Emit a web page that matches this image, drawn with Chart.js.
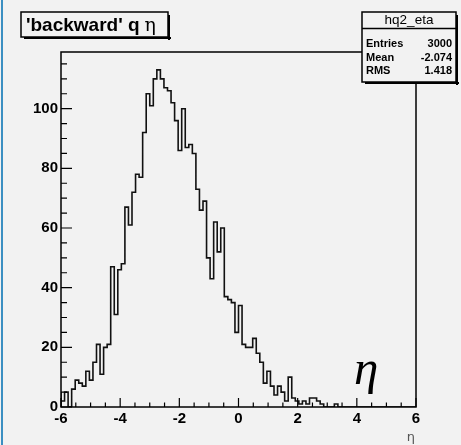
<!DOCTYPE html>
<html>
<head>
<meta charset="utf-8">
<script src="https://cdn.jsdelivr.net/npm/chart.js@4/dist/chart.umd.min.js"></script>
<style>
  html, body { margin: 0; padding: 0; background: #f2f2f2; }
  canvas { display: block; }
</style>
</head>
<body>
<canvas id="hist" width="461" height="445"></canvas>
<script>
// hq2_eta: 100 bins from -6 to 6
const binLow = -6;
const binWidth = 0.12;
const binCounts = [
    5, 2, 5, 0, 6, 9, 8, 7, 12, 9,
    15, 21, 11, 20, 21, 47, 31, 46, 48, 67,
    61, 72, 78, 77, 92, 105, 101, 110, 113, 110,
    107, 106, 102, 96, 86, 100, 87, 88, 85, 73,
    66, 69, 50, 43, 62, 52, 60, 37, 36, 35,
    25, 34, 21, 20, 20, 23, 18, 15, 8, 12,
    7, 4, 7, 5, 2, 10, 3, 2, 1, 2,
    1, 3, 3, 2, 1, 0, 0, 0, 1, 0,
    0, 0, 0, 0, 0, 0, 0, 0, 0, 0,
    0, 0, 0, 0, 0, 0, 0, 0, 0, 0
];
const xTicks = [-6, -4, -2, 0, 2, 4, 6];
const yTicks = [0, 20, 40, 60, 80, 100];
const statLabels = ['Entries', 'Mean', 'RMS'];
const statValues = ['3000', '-2.074', '1.418'];

const labelFont = { family: 'Liberation Sans', size: 15, weight: 'bold' };

// step outline: one point per lower bin edge, closing at the upper edge
const points = [{ x: binLow, y: 0 }];
binCounts.forEach((c, i) => points.push({ x: binLow + i * binWidth, y: c }));
points.push({ x: binLow + binCounts.length * binWidth, y: 0 });

const rootStyle = {
    id: 'rootStyle',
    beforeDraw(chart) {
        const ctx = chart.ctx;
        ctx.save();
        ctx.fillStyle = '#f2f2f2';
        ctx.fillRect(0, 0, chart.width, chart.height);
        ctx.fillStyle = '#3b8fc2';
        ctx.fillRect(1, 0, 2, chart.height);
        ctx.restore();
    },
    afterDraw(chart) {
        const ctx = chart.ctx;
        const area = chart.chartArea;
        const xs = chart.scales.x;
        const ys = chart.scales.y;
        ctx.save();
        ctx.strokeStyle = '#000';
        ctx.lineWidth = 1.5;
        ctx.strokeRect(area.left, area.top, area.right - area.left, area.bottom - area.top);

        // x ticks, pointing into the frame
        ctx.lineWidth = 1.2;
        ctx.beginPath();
        for (let v = -6; v <= 6.001; v += 0.5) {
            const px = xs.getPixelForValue(v);
            const len = Math.abs(v % 2) < 0.01 ? 9 : 4.5;
            ctx.moveTo(px, area.bottom);
            ctx.lineTo(px, area.bottom - len);
        }
        // y ticks
        for (let v = 0; v <= ys.max; v += 5) {
            const py = ys.getPixelForValue(v);
            const len = v % 20 === 0 ? 11 : 6;
            ctx.moveTo(area.left, py);
            ctx.lineTo(area.left + len, py);
        }
        ctx.stroke();

        // title box
        drawBox(ctx, 21, 12, 147, 25);
        ctx.fillStyle = '#000';
        ctx.textBaseline = 'alphabetic';
        ctx.textAlign = 'left';
        ctx.font = 'bold 19px "Liberation Sans"';
        ctx.fillText("'backward' q", 26, 31);
        const tw = ctx.measureText("'backward' q").width;
        ctx.font = '19px "DejaVu Serif"';
        ctx.fillText('\u03b7', 26 + tw + 5, 31);

        // statistics box
        drawBox(ctx, 362, 12, 94, 70);
        ctx.beginPath();
        ctx.moveTo(362, 28.5);
        ctx.lineTo(456, 28.5);
        ctx.stroke();
        ctx.textAlign = 'center';
        ctx.textBaseline = 'middle';
        ctx.font = '13.5px "Liberation Sans"';
        ctx.fillText('hq2_eta', 409, 20.5);
        ctx.font = 'bold 11px "Liberation Sans"';
        const rowY = [44, 57.5, 71];
        statLabels.forEach((s, i) => {
            ctx.textAlign = 'left';
            ctx.fillText(s, 366, rowY[i]);
            ctx.textAlign = 'right';
            ctx.fillText(statValues[i], 452, rowY[i]);
        });

        // axis title
        ctx.fillStyle = '#555';
        ctx.font = '13px "DejaVu Sans"';
        ctx.textAlign = 'right';
        ctx.textBaseline = 'alphabetic';
        ctx.fillText('\u03b7', 415, 441);

        // large italic eta
        ctx.fillStyle = '#000';
        ctx.font = 'italic 49px "Liberation Serif"';
        ctx.textAlign = 'left';
        ctx.fillText('\u03b7', 354, 384);
        ctx.restore();
    }
};

function drawBox(ctx, x, y, w, h) {
    ctx.fillStyle = '#f2f2f2';
    ctx.fillRect(x, y, w, h);
    ctx.fillStyle = '#000';
    ctx.fillRect(x + 3, y + h, w, 2);
    ctx.fillRect(x + w, y + 3, 2, h);
    ctx.strokeStyle = '#000';
    ctx.lineWidth = 1.5;
    ctx.strokeRect(x, y, w, h);
}

new Chart(document.getElementById('hist'), {
    type: 'line',
    data: {
        datasets: [{
            data: points,
            stepped: 'after',
            borderColor: '#111',
            borderWidth: 1.6,
            pointRadius: 0,
            fill: false
        }]
    },
    options: {
        responsive: false,
        animation: false,
        layout: { padding: { left: 0, top: 52, right: 45, bottom: 0 } },
        plugins: { legend: { display: false }, tooltip: { enabled: false } },
        scales: {
            x: {
                type: 'linear',
                min: -6,
                max: 6,
                grid: { display: false, drawTicks: false },
                border: { display: false },
                afterFit: s => { s.height = 38; },
                ticks: {
                    stepSize: 2,
                    padding: 3,
                    color: '#000',
                    font: labelFont,
                    maxRotation: 0,
                    callback: v => xTicks.includes(v) ? String(v) : ''
                }
            },
            y: {
                min: 0,
                max: 119,
                grid: { display: false, drawTicks: false },
                border: { display: false },
                afterFit: s => { s.width = 61; },
                ticks: {
                    stepSize: 20,
                    includeBounds: false,
                    padding: 3,
                    color: '#000',
                    font: labelFont,
                    callback: v => yTicks.includes(v) ? String(v) : ''
                }
            }
        }
    },
    plugins: [rootStyle]
});
</script>
</body>
</html>
